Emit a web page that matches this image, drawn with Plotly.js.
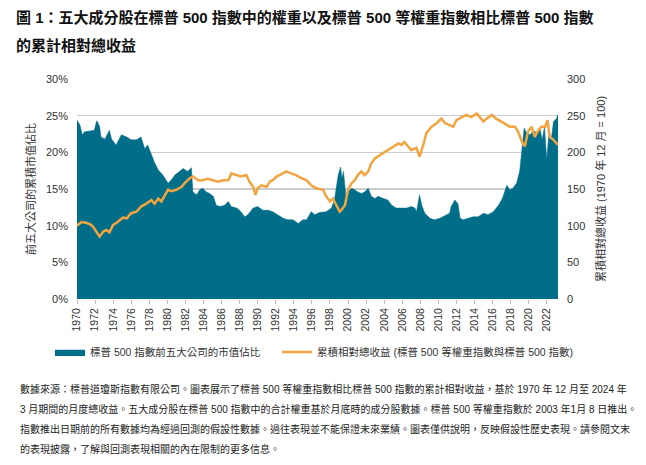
<!DOCTYPE html>
<html>
<head>
<meta charset="utf-8">
<script src="https://cdn.plot.ly/plotly-3.0.1.min.js"></script>
<style>
html,body{margin:0;padding:0;background:#fff;}
#chart{width:646px;height:465px;}
</style>
</head>
<body>
<div id="chart"></div>
<script>
// ---- Data ----
const shareDates = ["1970-12","1971-04","1971-07","1971-10","1972-05","1972-11","1973-02","1973-04","1973-06","1973-08","1974-01","1974-07","1974-10","1975-04","1975-11","1976-06","1976-12","1977-07","1978-01","1978-06","1978-10","1979-03","1979-07","1979-12","1980-06","1981-01","1981-05","1981-10","1982-04","1982-09","1983-03","1983-08","1983-10","1984-03","1984-07","1984-11","1985-04","1985-08","1986-01","1986-05","1986-10","1987-04","1987-09","1988-01","1988-08","1988-12","1989-07","1989-11","1990-06","1990-12","1991-07","1992-02","1992-08","1993-03","1993-10","1994-04","1994-11","1995-06","1995-12","1996-05","1996-11","1997-04","1997-10","1998-07","1999-02","1999-06","1999-09","1999-11","2000-02","2000-04","2000-06","2000-09","2000-12","2001-05","2001-09","2002-01","2002-06","2002-10","2003-03","2003-07","2003-12","2004-04","2004-11","2005-05","2005-10","2006-04","2006-11","2007-06","2007-12","2008-05","2008-07","2008-11","2009-02","2009-06","2010-01","2010-07","2011-02","2011-06","2011-11","2012-03","2012-05","2012-10","2013-02","2013-05","2013-09","2014-04","2014-10","2015-05","2015-12","2016-06","2017-01","2017-08","2018-01","2018-07","2018-11","2019-03","2019-08","2019-12","2020-03","2020-06","2020-09","2021-02","2021-06","2021-10","2022-03","2022-06","2022-09","2022-12","2023-03","2023-06","2023-09","2024-01","2024-03"];
const shareTop5 = [24.4,23.7,22.4,22.8,22.9,23.0,24.3,24.0,23.5,22.1,21.8,23.0,21.8,21.0,22.4,22.1,21.7,21.7,22.1,20.5,21.0,19.6,18.6,17.6,16.9,15.8,16.2,16.9,17.4,17.8,17.4,17.9,14.6,14.2,14.9,15.1,14.6,14.4,14.0,12.8,12.6,12.8,13.3,12.6,12.4,12.1,11.2,11.5,12.4,12.6,12.1,12.1,11.9,11.5,11.0,10.8,10.8,10.3,10.8,10.8,11.9,11.5,11.8,11.9,12.4,13.5,15.5,16.9,18.0,16.5,17.4,14.2,14.6,15.1,14.9,14.6,14.4,14.6,15.1,14.0,13.7,14.0,13.7,13.5,12.8,12.4,12.4,12.4,12.6,12.4,11.9,14.2,12.8,11.7,11.0,10.8,11.0,11.2,11.5,11.7,12.6,13.5,13.0,11.0,10.8,11.0,11.2,11.2,11.7,11.5,11.9,12.8,13.7,15.5,14.9,15.1,15.8,17.4,20.5,23.3,22.7,22.4,23.0,22.7,23.3,21.7,23.5,19.0,22.7,21.7,24.2,24.6,25.2];

const relDates = ["1970-12","1971-06","1971-12","1972-05","1972-09","1973-02","1973-06","1973-11","1974-03","1974-07","1974-12","1975-06","1976-01","1976-06","1976-12","1977-07","1978-01","1978-08","1979-03","1979-07","1979-12","1980-04","1980-08","1981-01","1981-05","1981-12","1982-07","1982-11","1983-06","1983-10","1984-05","1984-11","1985-06","1986-01","1986-07","1987-02","1987-09","1988-01","1988-08","1989-02","1989-09","1990-01","1990-06","1990-09","1990-12","1991-05","1991-12","1992-04","1992-08","1993-01","1993-07","1994-02","1994-09","1995-03","1995-10","1996-05","1996-11","1997-06","1997-10","1998-03","1998-07","1998-12","1999-04","1999-09","2000-01","2000-03","2000-08","2000-12","2001-05","2001-09","2002-01","2002-06","2002-10","2003-03","2003-07","2003-12","2004-06","2004-11","2005-05","2005-12","2006-07","2006-11","2007-03","2007-08","2007-12","2008-07","2008-11","2009-04","2009-08","2010-03","2010-10","2011-04","2011-09","2012-03","2012-08","2012-12","2013-07","2014-01","2014-08","2015-03","2015-07","2015-12","2016-04","2016-11","2017-05","2017-12","2018-07","2018-11","2019-06","2019-10","2020-03","2020-07","2020-11","2021-04","2021-08","2022-01","2022-05","2022-10","2023-01","2023-04","2023-09","2024-01","2024-03"];
const relReturn = [100,105,104,102,99,92,85,92,94,91,101,105,111,110,117,119,126,130,135,130,137,133,140,149,147,149,153,158,165,167,162,162,164,162,160,162,162,171,169,167,169,160,153,142,151,155,153,160,162,167,170,174,171,169,165,162,155,151,150,149,140,133,137,126,119,121,128,149,158,162,169,174,169,174,185,192,196,199,203,208,212,210,214,208,203,206,194,210,226,235,240,246,240,237,235,244,248,251,248,253,248,242,246,251,246,242,237,235,235,228,215,208,228,235,221,230,235,235,244,221,217,212,210];

const tickYears = ["1970","1972","1974","1976","1978","1980","1982","1984","1986","1988","1990","1992","1994","1996","1998","2000","2002","2004","2006","2008","2010","2012","2014","2016","2018","2020","2022"];
const tickDates = tickYears.map(y => y + "-12-01");

const shareName = "標普 500 指數前五大公司的市值佔比";
const relName = "累積相對總收益 (標普 500 等權重指數與標普 500 指數)";

// ---- Layout helpers ----
const W = 646, H = 465;
const M = {l: 77, r: 88, t: 79, b: 166};
const PW = W - M.l - M.r, PH = H - M.t - M.b;
const px = x => (x - M.l) / PW;
const py = y => (H - M.b - y) / PH;

const FONT = "Liberation Sans, Arial, 'Noto Sans CJK TC', sans-serif";
const TEAL = "#006E88";
const ORANGE = "#F2A440";

const traces = [
  {
    x: shareDates, y: shareTop5, name: shareName,
    type: "scatter", mode: "lines", fill: "tozeroy",
    fillcolor: TEAL, line: {color: TEAL, width: 0.5},
    yaxis: "y", hoverinfo: "skip", legend: "legend"
  },
  {
    x: relDates, y: relReturn, name: relName,
    type: "scatter", mode: "lines",
    line: {color: ORANGE, width: 2.5},
    yaxis: "y2", hoverinfo: "skip", legend: "legend2"
  }
];

const footLines = [
  "數據來源：標普道瓊斯指數有限公司。圖表展示了標普 500 等權重指數相比標普 500 指數的累計相對收益，基於 1970 年 12 月至 2024 年",
  "3 月期間的月度總收益。五大成分股在標普 500 指數中的合計權重基於月底時的成分股數據。標普 500 等權重指數於 2003 年1月 8 日推出。",
  "指數推出日期前的所有數據均為經過回測的假設性數據。過往表現並不能保證未來業績。圖表僅供說明，反映假設性歷史表現。請參閱文末",
  "的表現披露，了解與回測表現相關的內在限制的更多信息。"
];
const footY = [389, 409, 429, 449];

const annotations = [
  {text: "<b>圖 1：五大成分股在標普 500 指數中的權重以及標普 500 等權重指數相比標普 500 指數</b>",
   x: px(14), y: py(17)},
  {text: "<b>的累計相對總收益</b>", x: px(14), y: py(45)}
].map(a => Object.assign(a, {xref: "paper", yref: "paper", xanchor: "left", yanchor: "middle",
  showarrow: false, font: {family: FONT, size: 15, color: "#111"}}));

footLines.forEach((t, i) => annotations.push({
  text: t, x: px(18), y: py(footY[i]), xref: "paper", yref: "paper",
  xanchor: "left", yanchor: "middle", showarrow: false,
  font: {family: FONT, size: 10, color: "#222"}
}));

const legendFont = {family: FONT, size: 10.5, color: "#333"};

const layout = {
  width: W, height: H,
  margin: M,
  paper_bgcolor: "#fff", plot_bgcolor: "#fff",
  font: {family: FONT, size: 11, color: "#333"},
  showlegend: true,
  legend: {orientation: "h", x: px(50), y: py(352), xanchor: "left", yanchor: "middle",
    font: legendFont, itemwidth: 30, bgcolor: "rgba(0,0,0,0)"},
  legend2: {orientation: "h", x: px(277), y: py(352), xanchor: "left", yanchor: "middle",
    font: legendFont, itemwidth: 30, bgcolor: "rgba(0,0,0,0)"},
  xaxis: {
    type: "date", range: ["1970-12-01", "2024-03-01"],
    tickmode: "array", tickvals: tickDates, ticktext: tickYears,
    tickangle: -90, ticks: "outside", ticklen: 4, tickcolor: "#bbb",
    showgrid: false, zeroline: false, showline: false,
    tickfont: {family: FONT, size: 10.5, color: "#333"}, automargin: false
  },
  yaxis: {
    range: [0, 30], tickvals: [0,5,10,15,20,25,30], ticktext: ["0%","5%","10%","15%","20%","25%","30%"],
    showgrid: true, gridcolor: "#cccccc", gridwidth: 1.5, zeroline: false, showline: false,
    ticks: "", ticklabelstandoff: 8,
    tickfont: {family: FONT, size: 11, color: "#333"},
    title: {text: "前五大公司的累積市值佔比", font: {family: FONT, size: 11, color: "#333"}, standoff: 8},
    automargin: false
  },
  yaxis2: {
    range: [0, 300], tickvals: [0,50,100,150,200,250,300],
    overlaying: "y", side: "right", showgrid: false, zeroline: false, showline: false,
    ticks: "", ticklabelstandoff: 8,
    tickfont: {family: FONT, size: 11, color: "#333"},
    title: {text: "累積相對總收益 (1970 年 12 月 = 100)", font: {family: FONT, size: 11, color: "#333"}, standoff: 12},
    automargin: false
  },
  annotations: annotations
};

Plotly.newPlot("chart", traces, layout, {displayModeBar: false, staticPlot: true});
</script>
</body>
</html>
